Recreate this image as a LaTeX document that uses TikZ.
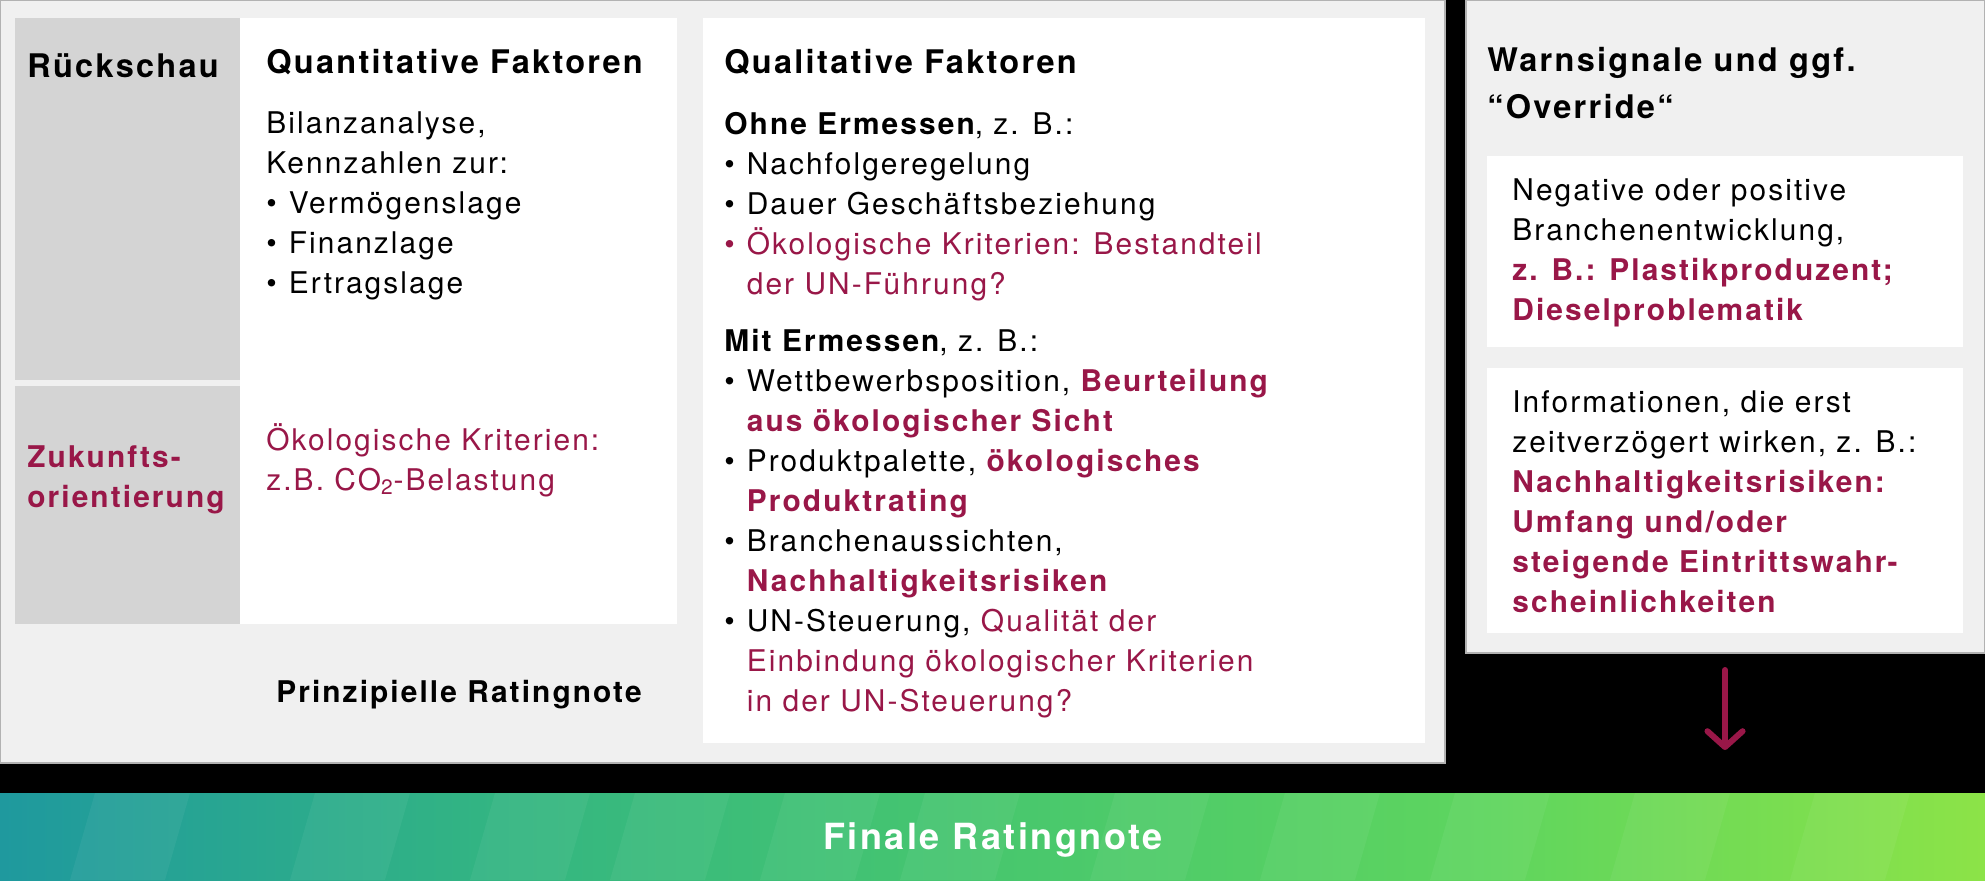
\documentclass[tikz,border=0pt]{standalone}
\usepackage{fontspec}
\setmainfont{TeX Gyre Heros}[LetterSpace=7]
\usetikzlibrary{arrows.meta}

\definecolor{ratingred}{RGB}{153,23,72}
\definecolor{panelgray}{RGB}{240,240,240}
\definecolor{sidegray}{RGB}{212,212,212}
\pgfdeclarehorizontalshading{finalfade}{100bp}{rgb(0bp)=(0.12,0.6,0.62); rgb(25bp)=(0.12,0.6,0.62); rgb(37.5bp)=(0.2,0.71,0.51); rgb(50bp)=(0.28,0.78,0.43); rgb(62.5bp)=(0.37,0.835,0.37); rgb(75bp)=(0.55,0.89,0.28); rgb(100bp)=(0.55,0.89,0.28)}

\newcommand{\itemdot}{\makebox[12.8pt][l]{•}}
\newcommand{\itemgap}{\hspace*{12.8pt}}

\begin{document}
\begin{tikzpicture}[x=0.02cm, y=-0.02cm,
    txt/.style={anchor=base west, inner sep=0pt, align=left, font=\fontsize{17}{22.76}\selectfont},
    head/.style={txt, font=\fontsize{18.5}{26.2}\selectfont\bfseries},
    panel/.style={fill=panelgray, draw=black!30, line width=0.6pt},
    warnarrow/.style={ratingred, line width=3.4pt, line cap=round, -{Straight Barb[length=9pt, width=20pt, round]}}]
    \useasboundingbox (0,0) rectangle (1985,880);
    \fill[black] (0,0) rectangle (1985,880);

    % boxes
    \filldraw[panel] (0,0) rectangle (1445,763);
    \fill[sidegray] (15,18) rectangle (240,380);
    \fill[sidegray] (15,386) rectangle (240,624);
    \fill[white] (240,18) rectangle (677,624);
    \fill[white] (703,18) rectangle (1425,743);
    \filldraw[panel] (1466,0) rectangle (1985,653);
    \fill[white] (1487,156) rectangle (1963,347);
    \fill[white] (1487,368) rectangle (1963,633);
    \shade[shading=finalfade] (0,793) rectangle (1985,880);
    \foreach \s in {70,290,470,610,760,900,1090,1260,1430,1610,1790}
        \fill[white, opacity=0.05] (\s,880) -- (\s+25,793) -- (\s+120,793) -- (\s+95,880) -- cycle;

    % left part (multi-line nodes sit on their last baseline)
    \node[head] (rueck) at (27,77) {Rückschau};
    \node[txt, font=\fontsize{17}{22.76}\selectfont\bfseries, text=ratingred] (zukunft) at (27,507) {Zukunfts-\\orientierung};
    \node[head] (quanthead) at (266,73) {Quantitative Faktoren};
    \node[txt] (quantbody) at (266,293) {Bilanzanalyse,\\Kennzahlen zur:\\\itemdot Vermögenslage\\\itemdot Finanzlage\\\itemdot Ertragslage};
    \node[txt, text=ratingred] (oeko) at (266,490) {Ökologische Kriterien:\\z.B. CO\textsubscript{2}-Belastung};
    \node[txt, anchor=base, font=\fontsize{17}{22.76}\selectfont\bfseries] (prinz) at (459,702) {Prinzipielle Ratingnote};

    \node[head] (qualhead) at (724,73) {Qualitative Faktoren};
    \node[txt] (qualbody) at (724,711) {\textbf{Ohne Ermessen}, z. B.:\\
        \itemdot Nachfolgeregelung\\
        \itemdot Dauer Geschäftsbeziehung\\
        {\color{ratingred}\itemdot Ökologische Kriterien: Bestandteil}\\
        {\color{ratingred}\itemgap der UN-Führung?}\\[9.7pt]
        \textbf{Mit Ermessen}, z. B.:\\
        \itemdot Wettbewerbsposition, {\color{ratingred}\bfseries Beurteilung}\\
        {\color{ratingred}\bfseries\itemgap aus ökologischer Sicht}\\
        \itemdot Produktpalette, {\color{ratingred}\bfseries ökologisches}\\
        {\color{ratingred}\bfseries\itemgap Produktrating}\\
        \itemdot Branchenaussichten,\\
        {\color{ratingred}\bfseries\itemgap Nachhaltigkeitsrisiken}\\
        \itemdot UN-Steuerung, {\color{ratingred}Qualität der}\\
        {\color{ratingred}\itemgap Einbindung ökologischer Kriterien}\\
        {\color{ratingred}\itemgap in der UN-Steuerung?}};

    % right part
    \node[head] (warnhead) at (1487,118) {Warnsignale und ggf.\\“Override“};
    \node[txt] (branche) at (1512,320) {Negative oder positive\\Branchenentwicklung,\\
        {\color{ratingred}\bfseries z. B.: Plastikproduzent;}\\
        {\color{ratingred}\bfseries Dieselproblematik}};
    \node[txt] (info) at (1512,612) {Informationen, die erst\\zeitverzögert wirken, z. B.:\\
        {\color{ratingred}\bfseries Nachhaltigkeitsrisiken:}\\
        {\color{ratingred}\bfseries Umfang und/oder}\\
        {\color{ratingred}\bfseries steigende Eintrittswahr-}\\
        {\color{ratingred}\bfseries scheinlichkeiten}};

    \node[anchor=base, inner sep=0pt, text=white, font=\fontsize{20.5}{24}\selectfont\bfseries] (final) at (993,849) {Finale Ratingnote};

    \coordinate (warnfoot) at (1725,670);
    \coordinate (finaltop) at (1725,750);
    \draw[warnarrow] (warnfoot) -- (finaltop);
\end{tikzpicture}
\end{document}
